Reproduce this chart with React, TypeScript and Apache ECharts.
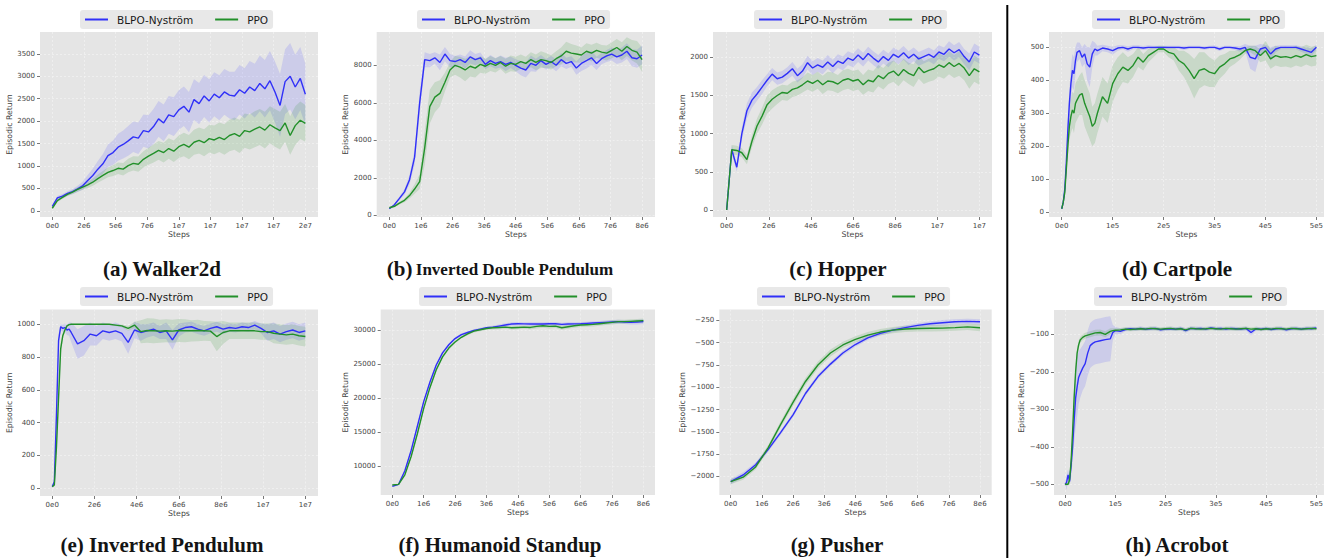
import React, { useEffect, useRef } from "react";
import * as echarts from "echarts";

const SERIES_NAMES = ["BLPO-Nyström", "PPO"];
const BLUE = "#3030f8";
const GREEN = "#22902a";
const BLUE_BAND = "rgba(60,60,255,0.15)";
const GREEN_BAND = "rgba(34,139,34,0.15)";

const seq = (n: number, step: number) => Array.from({ length: n }, (_, i) => +(i * step).toFixed(3));

// ---------- tick labels ----------
const ticksX_a = [0, 2.5e6, 5e6, 7.5e6, 1e7, 1.25e7, 1.5e7, 1.75e7, 2e7];
const labelsX_a = ["0e0", "2e6", "5e6", "7e6", "1e7", "1e7", "1e7", "1e7", "2e7"];
const ticksX_8e6 = [0, 1e6, 2e6, 3e6, 4e6, 5e6, 6e6, 7e6, 8e6];
const labelsX_8e6 = ["0e0", "1e6", "2e6", "3e6", "4e6", "5e6", "6e6", "7e6", "8e6"];
const ticksX_12e6 = [0, 2e6, 4e6, 6e6, 8e6, 1e7, 1.2e7];
const labelsX_12e6 = ["0e0", "2e6", "4e6", "6e6", "8e6", "1e7", "1e7"];
const ticksX_5e5 = [0, 1e5, 2e5, 3e5, 4e5, 5e5];
const labelsX_5e5 = ["0e0", "1e5", "2e5", "3e5", "4e5", "5e5"];
const ticksY_a = [0, 500, 1000, 1500, 2000, 2500, 3000, 3500];
const ticksY_b = [0, 2000, 4000, 6000, 8000];
const ticksY_c = [0, 500, 1000, 1500, 2000];
const ticksY_d = [0, 100, 200, 300, 400, 500];
const ticksY_e = [0, 200, 400, 600, 800, 1000];
const ticksY_f = [10000, 15000, 20000, 25000, 30000];
const ticksY_g = [-2000, -1750, -1500, -1250, -1000, -750, -500, -250];
const ticksY_h = [-500, -400, -300, -200, -100];

// ---------- (a) Walker2d ----------
const stepsA = seq(51, 0.4e6);
const blpoA = [100, 290, 330, 390, 430, 490, 560, 680, 790, 930, 1050, 1230, 1300, 1420, 1480, 1560, 1650, 1620, 1790, 1760, 1880, 2050, 1960, 2140, 2100, 2250, 2330, 2200, 2480, 2390, 2560, 2450, 2600, 2520, 2650, 2580, 2560, 2700, 2620, 2760, 2680, 2840, 2720, 2900, 2650, 2350, 2880, 3000, 2760, 2950, 2600];
const blpoSdA = [20, 40, 45, 50, 60, 70, 90, 120, 150, 180, 220, 250, 270, 300, 310, 330, 340, 350, 360, 370, 390, 400, 410, 420, 430, 440, 440, 450, 450, 460, 470, 480, 490, 500, 510, 520, 540, 550, 560, 580, 600, 620, 640, 660, 680, 700, 720, 740, 720, 700, 680];
const ppoA = [60, 230, 300, 370, 420, 480, 530, 580, 640, 720, 790, 860, 900, 950, 930, 1010, 1060, 1040, 1150, 1220, 1280, 1350, 1300, 1390, 1330, 1430, 1480, 1420, 1530, 1570, 1520, 1610, 1580, 1640, 1590, 1680, 1720, 1660, 1790, 1760, 1820, 1870, 1800, 1920, 1850, 1790, 1960, 1680, 1900, 2020, 1950];
const ppoSdA = [20, 30, 35, 40, 45, 50, 60, 70, 80, 90, 100, 110, 120, 130, 140, 150, 160, 170, 180, 190, 200, 210, 220, 230, 240, 250, 260, 270, 280, 290, 300, 310, 320, 330, 340, 350, 360, 370, 380, 390, 400, 400, 410, 410, 420, 420, 420, 430, 430, 420, 410];

// ---------- (b) Inverted Double Pendulum ----------
const stepsB = seq(51, 0.16e6);
const blpoB = [350, 560, 900, 1250, 1900, 3100, 6000, 8300, 8250, 8400, 8150, 8600, 8250, 8200, 8300, 8150, 8450, 8300, 8400, 8050, 8250, 8100, 8200, 8050, 8150, 8000, 7850, 7750, 8100, 8000, 8250, 8050, 8200, 8000, 8300, 8100, 8200, 7850, 8100, 8250, 8400, 8100, 8350, 8500, 8600, 8450, 8550, 8750, 8400, 8350, 8550];
const blpoSdB = [40, 60, 100, 150, 250, 400, 600, 400, 350, 300, 420, 380, 350, 300, 280, 320, 350, 300, 280, 260, 300, 280, 320, 350, 300, 320, 380, 400, 420, 350, 300, 280, 300, 320, 350, 300, 280, 350, 400, 420, 380, 350, 300, 320, 350, 380, 400, 420, 450, 480, 500];
const ppoB = [400, 480, 650, 800, 1050, 1400, 1800, 3600, 5800, 6300, 6500, 7100, 7750, 8000, 7900, 7750, 7950, 7850, 8050, 7950, 8100, 8000, 8150, 7950, 8100, 8050, 8200, 8100, 8300, 8150, 8300, 8250, 8150, 8350, 8500, 8750, 8650, 8600, 8550, 8750, 8650, 8800, 8700, 8650, 8800, 8950, 8750, 9000, 8800, 8700, 8300];
const ppoSdB = [50, 60, 80, 100, 150, 250, 400, 900, 900, 800, 700, 500, 400, 500, 550, 600, 550, 500, 450, 400, 400, 380, 350, 400, 420, 400, 380, 350, 400, 420, 450, 400, 380, 400, 450, 500, 480, 450, 400, 420, 450, 400, 380, 400, 420, 450, 480, 500, 550, 600, 650];

// ---------- (c) Hopper ----------
const stepsC = seq(51, 0.24e6);
const blpoC = [0, 790, 560, 1000, 1300, 1440, 1520, 1610, 1700, 1780, 1720, 1740, 1790, 1850, 1760, 1820, 1930, 1860, 1900, 1870, 1940, 1880, 1950, 1920, 1990, 1960, 2030, 1970, 2050, 1990, 1940, 2010, 1960, 2040, 2000, 2060, 1990, 2040, 1980, 2010, 2040, 2000, 2070, 2040, 2110, 2060, 2100, 2010, 1940, 2070, 2030];
const blpoSdC = [10, 60, 60, 80, 100, 100, 90, 90, 80, 80, 80, 80, 80, 90, 90, 90, 90, 90, 90, 90, 90, 90, 90, 90, 90, 90, 90, 90, 90, 90, 90, 90, 90, 90, 90, 90, 90, 90, 90, 90, 90, 90, 90, 90, 100, 100, 100, 100, 110, 110, 110];
const ppoC = [0, 790, 780, 750, 660, 900, 1100, 1230, 1380, 1450, 1500, 1540, 1530, 1580, 1600, 1640, 1690, 1660, 1700, 1640, 1690, 1680, 1650, 1700, 1720, 1690, 1710, 1640, 1700, 1680, 1760, 1720, 1790, 1820, 1760, 1840, 1790, 1760, 1870, 1800, 1830, 1850, 1900, 1870, 1930, 1880, 1920, 1860, 1760, 1850, 1810];
const ppoSdC = [10, 60, 60, 60, 60, 80, 100, 110, 120, 120, 110, 100, 100, 100, 100, 100, 110, 110, 110, 120, 120, 120, 120, 130, 130, 130, 130, 130, 140, 140, 140, 140, 140, 140, 140, 140, 140, 150, 150, 150, 150, 150, 150, 150, 150, 150, 160, 160, 170, 170, 170];

// ---------- (d) Cartpole (steps in thousands) ----------
const stepsDk = [0, 3, 6, 9, 12, 15, 18, 21, 24, 27, 30, 35, 40, 45, 50, 55, 60, 65, 70, 80, 90, 100, 110, 120, 130, 140, 150, 160, 170, 180, 190, 200, 210, 220, 230, 240, 250, 260, 270, 280, 290, 300, 310, 320, 330, 340, 350, 360, 370, 380, 390, 400, 410, 420, 430, 440, 450, 460, 470, 480, 490, 500];
const blpoD = [10, 30, 70, 150, 250, 330, 390, 430, 420, 460, 485, 490, 470, 480, 450, 440, 480, 495, 490, 498, 495, 490, 498, 500, 495, 500, 500, 498, 500, 500, 500, 500, 500, 500, 500, 498, 500, 500, 500, 498, 500, 500, 495, 500, 500, 498, 495, 500, 470, 465, 495, 500, 480, 495, 500, 500, 500, 500, 495, 490, 485, 500];
const blpoSdD = [5, 10, 15, 20, 30, 40, 50, 50, 50, 40, 30, 25, 30, 30, 50, 60, 40, 20, 15, 10, 10, 12, 8, 6, 8, 6, 6, 6, 6, 5, 5, 5, 5, 5, 5, 6, 5, 5, 5, 5, 5, 6, 6, 5, 5, 6, 8, 10, 35, 40, 15, 8, 20, 10, 6, 6, 6, 6, 8, 10, 12, 8];
const ppoD = [10, 30, 60, 130, 200, 260, 290, 310, 300, 330, 340, 355, 360, 330, 310, 290, 260, 270, 300, 350, 330, 390, 420, 440, 430, 445, 470, 455, 475, 485, 495, 495, 485, 480, 460, 450, 430, 405, 430, 435, 425, 420, 440, 450, 465, 470, 478, 490, 495, 490, 475, 490, 465, 475, 470, 472, 468, 475, 470, 478, 472, 475];
const ppoSdD = [5, 10, 15, 20, 30, 40, 50, 55, 60, 60, 60, 60, 65, 70, 70, 70, 60, 60, 60, 60, 60, 55, 50, 45, 40, 35, 30, 25, 20, 15, 10, 10, 15, 20, 30, 40, 50, 60, 55, 50, 45, 40, 35, 30, 25, 20, 15, 10, 10, 15, 20, 30, 30, 30, 30, 30, 30, 30, 30, 30, 30, 30];

// ---------- (e) Inverted Pendulum (steps in millions) ----------
const stepsEm = [0, 0.1, 0.2, 0.3, 0.4, 0.5, 0.6, 0.7, 0.8, 0.9, 1.2, 1.5, 1.8, 2.1, 2.4, 2.7, 3.0, 3.3, 3.6, 3.9, 4.2, 4.5, 4.8, 5.1, 5.4, 5.7, 6.0, 6.3, 6.6, 6.9, 7.2, 7.5, 7.8, 8.1, 8.4, 8.7, 9.0, 9.3, 9.6, 9.9, 10.2, 10.5, 10.8, 11.1, 11.4, 11.7, 12.0];
const blpoE = [10, 40, 450, 900, 985, 975, 980, 965, 970, 950, 880, 900, 940, 930, 960, 950, 960, 945, 890, 965, 950, 960, 970, 950, 960, 905, 965, 980, 985, 970, 960, 975, 985, 970, 980, 975, 985, 980, 995, 975, 950, 960, 940, 955, 965, 950, 960];
const blpoSdE = [5, 20, 60, 40, 20, 20, 25, 30, 40, 60, 90, 90, 70, 60, 50, 50, 50, 50, 70, 50, 50, 40, 40, 40, 50, 60, 40, 30, 30, 30, 30, 30, 30, 30, 25, 25, 25, 25, 25, 30, 50, 50, 50, 50, 50, 50, 50];
const ppoE = [10, 20, 250, 550, 850, 930, 965, 990, 998, 1000, 1000, 1000, 1000, 1000, 1000, 1000, 995, 990, 975, 995, 955, 962, 960, 958, 960, 958, 962, 960, 960, 962, 960, 958, 925, 950, 960, 960, 960, 960, 960, 955, 955, 945, 940, 935, 940, 930, 925];
const ppoSdE = [5, 10, 40, 60, 40, 20, 10, 5, 3, 3, 3, 3, 3, 3, 3, 3, 5, 8, 15, 20, 70, 75, 75, 70, 70, 70, 70, 70, 65, 65, 60, 60, 90, 70, 50, 50, 50, 50, 50, 50, 50, 60, 60, 60, 60, 60, 60];

// ---------- (f) Humanoid Standup ----------
const stepsF = seq(41, 0.2e6);
const blpoF = [7000, 7300, 9300, 12300, 15900, 19500, 22400, 24900, 26700, 27900, 28800, 29400, 29700, 30000, 30200, 30400, 30500, 30650, 30800, 30950, 31000, 30980, 30950, 30950, 30950, 31000, 31000, 30900, 30950, 30980, 31000, 31050, 31100, 31150, 31200, 31250, 31300, 31250, 31200, 31250, 31300];
const blpoSdF = [100, 100, 150, 200, 250, 250, 250, 250, 200, 200, 200, 200, 200, 200, 200, 200, 200, 250, 250, 250, 250, 250, 250, 250, 250, 250, 250, 250, 250, 250, 250, 250, 250, 250, 300, 300, 300, 300, 300, 350, 350];
const ppoF = [7200, 7300, 8700, 11400, 14800, 18500, 21600, 24200, 26100, 27400, 28300, 29000, 29500, 29900, 30100, 30300, 30400, 30450, 30500, 30400, 30450, 30500, 30450, 30600, 30700, 30600, 30650, 30400, 30550, 30700, 30800, 30850, 30900, 31000, 31100, 31200, 31300, 31300, 31350, 31400, 31450];
const ppoSdF = [100, 100, 150, 200, 250, 300, 300, 300, 250, 250, 200, 200, 200, 200, 200, 200, 250, 250, 250, 250, 250, 250, 250, 300, 300, 300, 300, 300, 300, 300, 300, 300, 300, 300, 300, 300, 300, 300, 300, 300, 300];

// ---------- (g) Pusher ----------
const stepsG = seq(21, 0.4e6);
const blpoG = [-2060, -1985, -1870, -1700, -1510, -1310, -1070, -880, -740, -615, -520, -445, -395, -358, -330, -305, -287, -275, -265, -260, -265];
const blpoSdG = [30, 30, 25, 25, 25, 25, 25, 25, 25, 25, 25, 25, 25, 25, 25, 25, 25, 30, 30, 30, 30];
const ppoG = [-2060, -2010, -1895, -1680, -1420, -1170, -935, -750, -615, -525, -463, -415, -380, -358, -345, -340, -338, -336, -330, -322, -332];
const ppoSdG = [30, 30, 30, 30, 35, 40, 40, 40, 40, 35, 35, 35, 35, 35, 35, 35, 35, 35, 35, 35, 40];

// ---------- (h) Acrobot (steps in thousands) ----------
const stepsHk = [0, 3, 6, 9, 12, 15, 18, 21, 24, 27, 30, 35, 40, 45, 50, 55, 60, 70, 80, 90, 95, 100, 110, 120, 130, 140, 150, 160, 170, 180, 190, 200, 210, 220, 230, 240, 250, 260, 270, 280, 290, 300, 310, 320, 330, 340, 350, 360, 370, 380, 390, 400, 410, 420, 430, 440, 450, 460, 470, 480, 490, 500];
const blpoH = [-500, -495, -475, -492, -450, -400, -330, -270, -240, -215, -205, -190, -178, -150, -130, -124, -120, -117, -114, -112, -95, -90, -92, -87, -85, -86, -84, -86, -85, -84, -88, -86, -85, -86, -84, -90, -84, -85, -84, -86, -83, -85, -84, -86, -84, -85, -86, -84, -95, -85, -86, -84, -87, -85, -84, -88, -85, -84, -86, -84, -85, -83];
const blpoSdH = [3, 20, 15, 10, 30, 40, 60, 80, 80, 70, 65, 60, 60, 60, 60, 60, 60, 60, 60, 60, 20, 10, 8, 5, 5, 5, 5, 5, 5, 5, 5, 5, 5, 5, 5, 6, 5, 5, 5, 5, 5, 5, 5, 5, 5, 5, 5, 5, 8, 5, 5, 5, 5, 5, 5, 5, 5, 5, 5, 5, 5, 5];
const ppoH = [-500, -500, -500, -488, -440, -360, -270, -200, -150, -128, -115, -108, -104, -102, -100, -98, -96, -95, -100, -92, -90, -89, -88, -86, -87, -86, -85, -86, -84, -85, -86, -85, -84, -86, -85, -88, -84, -85, -86, -85, -84, -85, -86, -84, -85, -86, -85, -84, -86, -85, -87, -85, -86, -84, -85, -86, -84, -85, -86, -85, -84, -85];
const ppoSdH = [3, 3, 3, 10, 20, 25, 20, 15, 12, 10, 8, 8, 8, 8, 8, 8, 8, 8, 8, 8, 6, 5, 5, 5, 5, 5, 5, 5, 5, 5, 5, 5, 5, 5, 5, 5, 5, 5, 5, 5, 5, 5, 5, 5, 5, 5, 5, 5, 5, 5, 5, 5, 5, 5, 5, 5, 5, 5, 5, 5, 5, 5];

// ---------- panel layout ----------
type Panel = {
  title: string;
  rich?: boolean;
  tx: number; ty: number;
  rect: [number, number, number, number];
  xr: [number, number]; yr: [number, number];
  xTicks: number[]; xLabels: string[]; yTicks: number[];
  yGap: number;
  legend: [number, number];
  xs: number[]; b: number[]; bs: number[]; g: number[]; gs: number[];
};

const panels: Panel[] = [
  { title: "(a) Walker2d", tx: 162, ty: 269, rect: [40, 32, 278, 185], xr: [-0.972e6, 2.1e7], yr: [-135, 3985], xTicks: ticksX_a, xLabels: labelsX_a, yTicks: ticksY_a, yGap: 24, legend: [80, 10], xs: stepsA, b: blpoA, bs: blpoSdA, g: ppoA, gs: ppoSdA },
  { title: "{p|(b)} {t|Inverted Double Pendulum}", rich: true, tx: 500, ty: 269, rect: [376.7, 32, 278.3, 185], xr: [-0.4e6, 8.41e6], yr: [-91, 9776], xTicks: ticksX_8e6, xLabels: labelsX_8e6, yTicks: ticksY_b, yGap: 22.5, legend: [417, 10], xs: stepsB, b: blpoB, bs: blpoSdB, g: ppoB, gs: ppoSdB },
  { title: "(c) Hopper", tx: 838, ty: 269, rect: [713, 32, 279, 185], xr: [-0.65e6, 1.26e7], yr: [-92, 2332], xTicks: ticksX_12e6, xLabels: labelsX_12e6, yTicks: ticksY_c, yGap: 23, legend: [754, 10], xs: stepsC, b: blpoC, bs: blpoSdC, g: ppoC, gs: ppoSdC },
  { title: "(d) Cartpole", tx: 1177, ty: 269, rect: [1049, 32, 277, 185], xr: [-0.25e5, 5.15e5], yr: [-15, 546.6], xTicks: ticksX_5e5, xLabels: labelsX_5e5, yTicks: ticksY_d, yGap: 20, legend: [1092, 10], xs: stepsDk.map((v) => v * 1000), b: blpoD, bs: blpoSdD, g: ppoD, gs: ppoSdD },
  { title: "(e) Inverted Pendulum", tx: 162, ty: 545, rect: [40, 309.5, 278, 186.5], xr: [-0.58e6, 1.26e7], yr: [-47, 1090], xTicks: ticksX_12e6, xLabels: labelsX_12e6, yTicks: ticksY_e, yGap: 23.7, legend: [80, 287], xs: stepsEm.map((v) => v * 1e6), b: blpoE, bs: blpoSdE, g: ppoE, gs: ppoSdE },
  { title: "(f) Humanoid Standup", tx: 500, ty: 545, rect: [380.7, 309.5, 274.3, 185.5], xr: [-0.37e6, 8.37e6], yr: [5725, 33096], xTicks: ticksX_8e6, xLabels: labelsX_8e6, yTicks: ticksY_f, yGap: 27.4, legend: [419, 287], xs: stepsF, b: blpoF, bs: blpoSdF, g: ppoF, gs: ppoSdF },
  { title: "(g) Pusher", tx: 837, ty: 545, rect: [719.3, 309.5, 272.4, 185.5], xr: [-0.366e6, 8.376e6], yr: [-2210, -126.6], xTicks: ticksX_8e6, xLabels: labelsX_8e6, yTicks: ticksY_g, yGap: 29.3, legend: [757, 287], xs: stepsG, b: blpoG, bs: blpoSdG, g: ppoG, gs: ppoSdG },
  { title: "(h) Acrobot", tx: 1177, ty: 545, rect: [1054, 310, 272, 185], xr: [-0.22e5, 5.15e5], yr: [-528.5, -35], xTicks: ticksX_5e5, xLabels: labelsX_5e5, yTicks: ticksY_h, yGap: 25, legend: [1094, 287], xs: stepsHk.map((v) => v * 1000), b: blpoH, bs: blpoSdH, g: ppoH, gs: ppoSdH },
];

const TICK_FONT = { fontSize: 7, color: "#444", fontFamily: "DejaVu Sans" };
const NAME_FONT = { fontSize: 7.8, color: "#444", fontFamily: "DejaVu Sans" };

function pickLabel(ticks: number[], labels: string[], v: number) {
  let best = 0;
  for (let i = 1; i < ticks.length; i++) if (Math.abs(ticks[i] - v) < Math.abs(ticks[best] - v)) best = i;
  return labels[best];
}

function bandSeries(k: number, xs: number[], mean: number[], sd: number[], color: string) {
  return {
    type: "custom",
    xAxisIndex: k,
    yAxisIndex: k,
    silent: true,
    z: 1,
    data: [[xs[0], mean[0]]],
    renderItem: (_params: any, api: any) => {
      const pts: number[][] = [];
      for (let i = 0; i < xs.length; i++) pts.push(api.coord([xs[i], mean[i] + sd[i]]));
      for (let i = xs.length - 1; i >= 0; i--) pts.push(api.coord([xs[i], mean[i] - sd[i]]));
      return { type: "polygon", shape: { points: pts }, style: { fill: color }, silent: true };
    },
  };
}

function lineSeries(k: number, name: string, xs: number[], vals: number[], color: string, z: number) {
  return {
    type: "line",
    name,
    xAxisIndex: k,
    yAxisIndex: k,
    data: xs.map((x, i) => [x, vals[i]]),
    showSymbol: false,
    symbol: "none",
    silent: true,
    z,
    lineStyle: { width: 1.4, color },
    itemStyle: { color },
  };
}

function buildOption() {
  const series: any[] = [];
  panels.forEach((p, k) => {
    series.push(lineSeries(k, SERIES_NAMES[0], p.xs, p.b, BLUE, 3));
    series.push(lineSeries(k, SERIES_NAMES[1], p.xs, p.g, GREEN, 4));
    series.push(bandSeries(k, p.xs, p.b, p.bs, BLUE_BAND));
    series.push(bandSeries(k, p.xs, p.g, p.gs, GREEN_BAND));
  });

  const graphic: any[] = panels.map((p) => ({
    type: "text",
    x: p.tx,
    y: p.ty,
    style: p.rich
      ? {
          text: p.title,
          align: "center",
          verticalAlign: "middle",
          fill: "#141414",
          rich: {
            p: { fontSize: 21, fontWeight: "bold", fontFamily: "Liberation Serif", fill: "#141414" },
            t: { fontSize: 17, fontWeight: "bold", fontFamily: "Liberation Serif", fill: "#141414" },
          },
        }
      : {
          text: p.title,
          align: "center",
          verticalAlign: "middle",
          fill: "#141414",
          fontSize: 21,
          fontWeight: "bold",
          fontFamily: "Liberation Serif",
        },
  }));
  graphic.push({
    type: "line",
    shape: { x1: 1007.3, y1: 5, x2: 1007.3, y2: 558 },
    style: { stroke: "#000", lineWidth: 2 },
  });

  return {
    animation: false,
    backgroundColor: "#ffffff",
    tooltip: { show: false },
    grid: panels.map((p) => ({
      left: p.rect[0],
      top: p.rect[1],
      width: p.rect[2],
      height: p.rect[3],
      show: true,
      backgroundColor: "#e5e5e5",
      borderWidth: 0,
    })),
    xAxis: panels.map((p, k) => ({
      gridIndex: k,
      type: "value",
      min: p.xr[0],
      max: p.xr[1],
      axisLine: { show: true, onZero: false, lineStyle: { color: "rgba(0,0,0,0)" } },
      axisTick: { show: true, length: 3, lineStyle: { color: "#555", width: 0.8 }, customValues: p.xTicks },
      axisLabel: { ...TICK_FONT, margin: 5, customValues: p.xTicks, formatter: (v: number) => pickLabel(p.xTicks, p.xLabels, v) },
      splitLine: { show: true, lineStyle: { color: "#f3f3f3", width: 0.7, type: [2, 2] } },
      name: "Steps",
      nameLocation: "middle",
      nameGap: 13,
      nameTextStyle: NAME_FONT,
    })),
    yAxis: panels.map((p, k) => ({
      gridIndex: k,
      type: "value",
      min: p.yr[0],
      max: p.yr[1],
      axisLine: { show: true, onZero: false, lineStyle: { color: "rgba(0,0,0,0)" } },
      axisTick: { show: true, length: 3, lineStyle: { color: "#555", width: 0.8 }, customValues: p.yTicks },
      axisLabel: {
        ...TICK_FONT,
        margin: 5,
        customValues: p.yTicks,
        formatter: (v: number) => (v < 0 ? "\u2212" + Math.abs(Math.round(v)) : String(Math.round(v))),
      },
      splitLine: { show: true, lineStyle: { color: "#f3f3f3", width: 0.7, type: [2, 2] } },
      name: "Episodic Return",
      nameLocation: "middle",
      nameGap: p.yGap,
      nameTextStyle: NAME_FONT,
    })),
    legend: panels.map((p) => ({
      data: SERIES_NAMES,
      left: p.legend[0],
      top: p.legend[1],
      orient: "horizontal",
      icon: "rect",
      itemWidth: 23,
      itemHeight: 2,
      itemGap: 22,
      padding: [4, 5, 4, 5],
      backgroundColor: "#e8e8e8",
      borderRadius: 3,
      selectedMode: false,
      textStyle: { fontSize: 10.5, fontFamily: "DejaVu Sans", color: "#1a1a1a", padding: [0, 0, 0, 4] },
    })),
    graphic,
    series,
  };
}

export default function App() {
  const ref = useRef<HTMLDivElement>(null);
  useEffect(() => {
    if (!ref.current) return;
    const chart = echarts.init(ref.current, undefined, { renderer: "svg" });
    chart.setOption(buildOption() as any);
    return () => chart.dispose();
  }, []);
  return (
    <div
      ref={ref}
      style={{ position: "absolute", left: 0, top: 0, width: 1326, height: 558, background: "#fff" }}
    />
  );
}
